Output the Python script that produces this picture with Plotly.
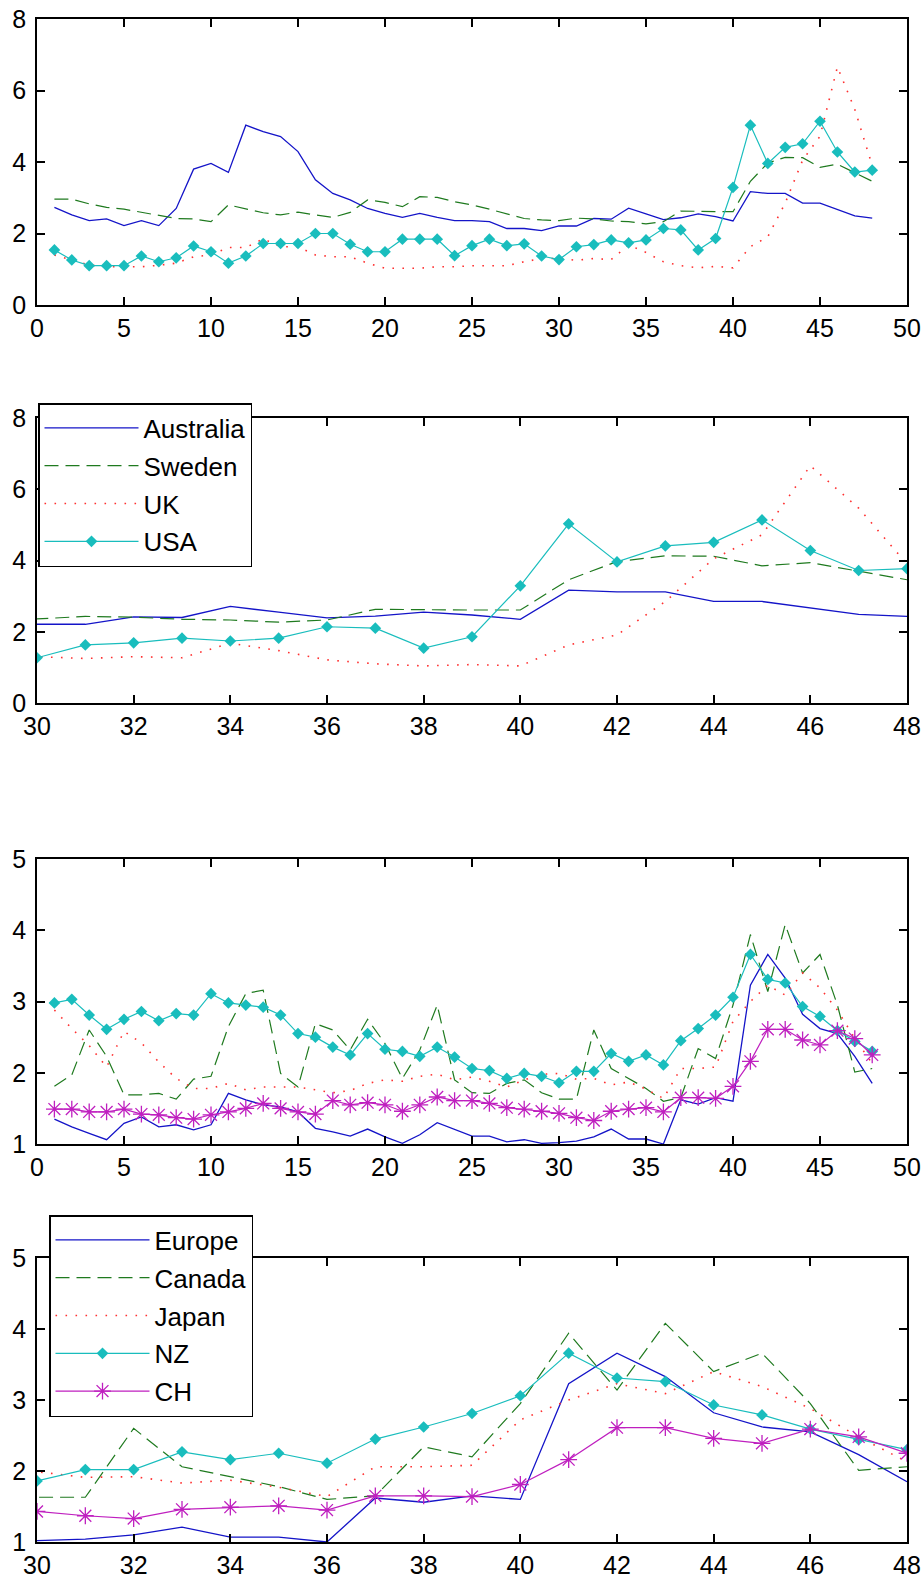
import plotly.graph_objects as go

x_vals = list(range(1, 49))

australia = [2.73, 2.52, 2.36, 2.41, 2.22, 2.36, 2.22, 2.70, 3.80, 3.96, 3.71, 5.03, 4.85, 4.71, 4.29, 3.50,
             3.12, 2.94, 2.70, 2.56, 2.45, 2.56, 2.45, 2.36, 2.36, 2.33, 2.14, 2.14, 2.08, 2.21, 2.21, 2.42,
             2.40, 2.71, 2.55, 2.39, 2.44, 2.55, 2.47, 2.35, 3.17, 3.12, 3.12, 2.85, 2.85, 2.66, 2.49, 2.43]
sweden = [2.96, 2.96, 2.83, 2.73, 2.68, 2.60, 2.52, 2.42, 2.41, 2.33, 2.80, 2.68, 2.58, 2.52, 2.60, 2.52,
          2.45, 2.59, 2.94, 2.87, 2.75, 3.03, 3.01, 2.89, 2.80, 2.68, 2.56, 2.42, 2.38, 2.36, 2.43, 2.41,
          2.35, 2.33, 2.27, 2.33, 2.63, 2.61, 2.61, 2.61, 3.46, 3.97, 4.13, 4.12, 3.85, 3.94, 3.69, 3.46]
uk = [1.40, 1.26, 1.12, 1.07, 1.07, 1.07, 1.11, 1.17, 1.35, 1.40, 1.61, 1.61, 1.85, 1.63, 1.63, 1.40,
      1.35, 1.35, 1.17, 1.03, 1.03, 1.03, 1.07, 1.07, 1.10, 1.10, 1.10, 1.21, 1.30, 1.30, 1.25, 1.30,
      1.27, 1.68, 1.47, 1.21, 1.10, 1.04, 1.08, 1.04, 1.63, 1.91, 2.85, 4.05, 4.72, 6.66, 5.47, 3.90]
usa = [1.54, 1.26, 1.10, 1.10, 1.10, 1.37, 1.21, 1.32, 1.65, 1.49, 1.17, 1.37, 1.72, 1.72, 1.72, 2.00,
       2.00, 1.70, 1.49, 1.49, 1.84, 1.84, 1.84, 1.38, 1.66, 1.84, 1.66, 1.71, 1.37, 1.27, 1.63, 1.69,
       1.82, 1.74, 1.82, 2.14, 2.10, 1.54, 1.86, 3.29, 5.03, 3.96, 4.41, 4.51, 5.14, 4.28, 3.72, 3.77]

europe = [1.35, 1.24, 1.15, 1.06, 1.29, 1.38, 1.24, 1.27, 1.20, 1.27, 1.71, 1.62, 1.55, 1.52, 1.45, 1.22,
          1.17, 1.11, 1.21, 1.10, 1.01, 1.13, 1.30, 1.20, 1.11, 1.11, 1.03, 1.06, 1.01, 1.02, 1.04, 1.10,
          1.21, 1.07, 1.07, 1.00, 1.62, 1.56, 1.65, 1.60, 3.23, 3.66, 3.33, 2.82, 2.62, 2.55, 2.23, 1.85]
canada = [1.81, 1.97, 2.60, 2.23, 1.69, 1.69, 1.71, 1.63, 1.91, 1.95, 2.65, 3.11, 3.16, 1.99, 1.80, 2.69,
          2.60, 2.32, 2.75, 2.41, 1.92, 2.32, 2.95, 1.90, 1.72, 1.71, 1.85, 1.90, 1.72, 1.63, 1.63, 2.60,
          2.06, 1.92, 1.78, 1.60, 1.65, 2.34, 2.20, 2.95, 3.94, 3.14, 4.08, 3.40, 3.66, 2.95, 2.01, 2.06]
japan = [2.88, 2.62, 2.38, 2.08, 2.58, 2.42, 2.15, 1.92, 1.78, 1.78, 1.85, 1.76, 1.80, 1.80, 1.80, 1.76,
         1.72, 1.75, 1.85, 1.90, 1.88, 1.95, 1.98, 1.90, 1.94, 1.88, 1.80, 1.90, 1.98, 1.99, 1.91, 1.92,
         1.83, 1.87, 1.77, 1.64, 2.06, 2.06, 2.08, 2.72, 3.00, 3.23, 3.09, 3.40, 3.19, 2.88, 2.48, 2.13]
nz = [2.98, 3.03, 2.81, 2.61, 2.75, 2.86, 2.73, 2.83, 2.81, 3.11, 2.98, 2.95, 2.92, 2.81, 2.55, 2.50,
      2.36, 2.25, 2.55, 2.33, 2.30, 2.23, 2.36, 2.22, 2.06, 2.03, 1.92, 1.99, 1.95, 1.86, 2.02, 2.02,
      2.27, 2.16, 2.25, 2.11, 2.45, 2.62, 2.81, 3.06, 3.66, 3.31, 3.26, 2.93, 2.79, 2.59, 2.44, 2.30]
ch = [1.49, 1.49, 1.45, 1.45, 1.49, 1.42, 1.41, 1.37, 1.35, 1.41, 1.45, 1.50, 1.57, 1.50, 1.45, 1.42,
      1.61, 1.55, 1.58, 1.55, 1.46, 1.55, 1.66, 1.61, 1.61, 1.57, 1.51, 1.49, 1.46, 1.43, 1.37, 1.33,
      1.46, 1.49, 1.51, 1.45, 1.65, 1.65, 1.64, 1.81, 2.16, 2.61, 2.61, 2.46, 2.39, 2.59, 2.48, 2.25]

BLUE = "#1414c8"
GREEN = "#1f7a1f"
RED = "#ff3030"
CYAN = "#19bdbd"
MAGENTA = "#bf1fbf"

W, H = 924, 1583
TICK_FONT = dict(family="Liberation Sans Narrow, Arial Narrow, Liberation Sans, Arial", size=25, color="black")
LEG_FONT = dict(family="Liberation Sans, Arial", size=26, color="black")

group1 = [
    ("Australia", australia, dict(color=BLUE, width=1.3), None),
    ("Sweden", sweden, dict(color=GREEN, width=1.2, dash="14px,7px"), None),
    ("UK", uk, dict(color=RED, width=1.6, dash="1.6px,8.4px"), None),
    ("USA", usa, dict(color=CYAN, width=1.2), dict(symbol="diamond", size=9, color=CYAN)),
]
group2 = [
    ("Europe", europe, dict(color=BLUE, width=1.3), None),
    ("Canada", canada, dict(color=GREEN, width=1.2, dash="14px,7px"), None),
    ("Japan", japan, dict(color=RED, width=1.6, dash="1.6px,8.4px"), None),
    ("NZ", nz, dict(color=CYAN, width=1.2), dict(symbol="diamond", size=9, color=CYAN)),
    ("CH", ch, dict(color=MAGENTA, width=1.2),
     dict(symbol="asterisk-open", size=14, color=MAGENTA, line=dict(color=MAGENTA, width=1.3))),
]

fig = go.Figure()

panels = [
    (group1, "", None),
    (group1, "2", "legend"),
    (group2, "3", None),
    (group2, "4", "legend2"),
]

for group, suf, leg in panels:
    for name, ys, line, marker in group:
        kw = dict(x=x_vals, y=ys, name=name, line=line,
                  xaxis="x" + suf, yaxis="y" + suf,
                  mode="lines+markers" if marker else "lines",
                  showlegend=leg is not None, legendgroup=name)
        if marker:
            kw["marker"] = marker
        if leg:
            kw["legend"] = leg
        fig.add_trace(go.Scatter(**kw))


def px_x(x):
    return x / W


def px_y(y):
    return 1 - y / H


def dom_y(top_px, bot_px):
    return [px_y(bot_px), px_y(top_px)]


x_dom = [px_x(37), px_x(907)]
axis_common = dict(showline=True, linecolor="black", linewidth=1.5, mirror="ticks",
                   ticks="inside", ticklen=8, tickwidth=1.5, tickcolor="black",
                   showgrid=False, zeroline=False, tickfont=TICK_FONT, automargin=False,
                   ticklabeloverflow="allow")

layout = dict(
    width=W, height=H,
    margin=dict(l=0, r=0, t=0, b=0, autoexpand=False),
    paper_bgcolor="white", plot_bgcolor="white",
    xaxis=dict(domain=x_dom, range=[0, 50], dtick=5, anchor="y", ticklabelstandoff=0, **axis_common),
    yaxis=dict(domain=dom_y(19, 305), range=[0, 8], dtick=2, anchor="x", ticklabelstandoff=4, **axis_common),
    xaxis2=dict(domain=x_dom, range=[30, 48], dtick=2, anchor="y2", ticklabelstandoff=0, **axis_common),
    yaxis2=dict(domain=dom_y(418, 703), range=[0, 8], dtick=2, anchor="x2", ticklabelstandoff=4, **axis_common),
    xaxis3=dict(domain=x_dom, range=[0, 50], dtick=5, anchor="y3", ticklabelstandoff=0, **axis_common),
    yaxis3=dict(domain=dom_y(859, 1144), range=[1, 5], dtick=1, anchor="x3", ticklabelstandoff=4, **axis_common),
    xaxis4=dict(domain=x_dom, range=[30, 48], dtick=2, anchor="y4", ticklabelstandoff=0, **axis_common),
    yaxis4=dict(domain=dom_y(1258, 1542), range=[1, 5], dtick=1, anchor="x4", ticklabelstandoff=4, **axis_common),
    legend=dict(x=px_x(38), y=px_y(403), xanchor="left", yanchor="top",
                bgcolor="white", bordercolor="black", borderwidth=1.5,
                font=LEG_FONT, tracegroupgap=1, itemwidth=94, entrywidth=126),
    legend2=dict(x=px_x(49), y=px_y(1215), xanchor="left", yanchor="top",
                 bgcolor="white", bordercolor="black", borderwidth=1.5,
                 font=LEG_FONT, tracegroupgap=1, itemwidth=94, entrywidth=100),
)
fig.update_layout(**layout)

fig.write_html(
    "out.html",
    config={"displayModeBar": False},
    post_script="document.body.style.margin='0';document.body.style.overflow='hidden';",
)
